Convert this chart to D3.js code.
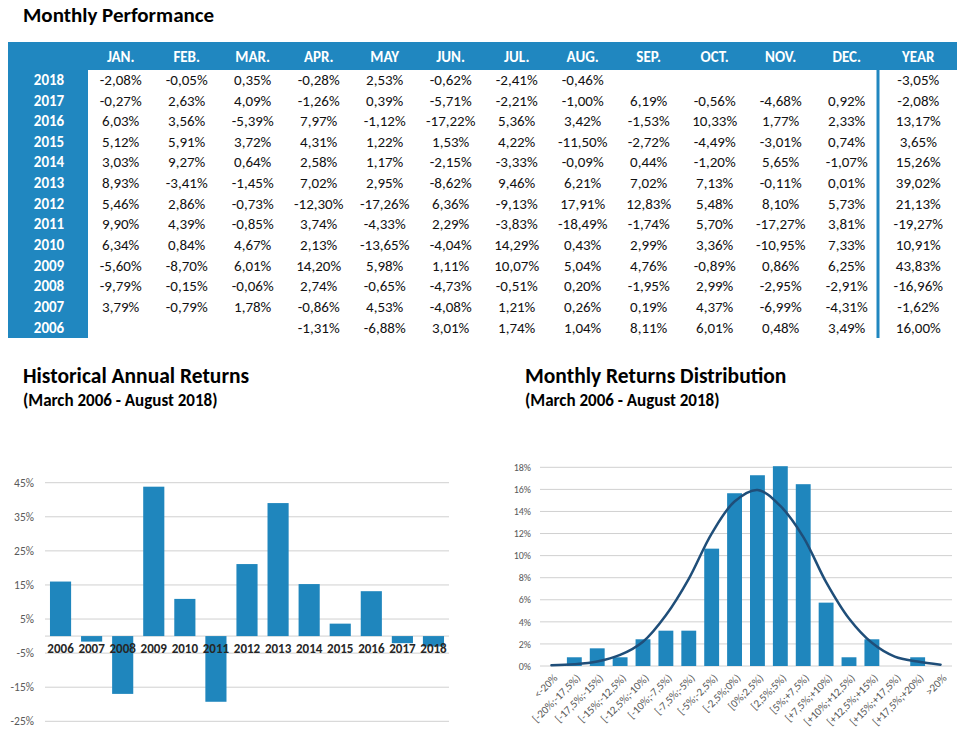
<!DOCTYPE html>
<html>
<head>
<meta charset="utf-8">
<script src="https://cdn.jsdelivr.net/npm/d3@7"></script>
<style>
  html, body { margin: 0; padding: 0; background: #fff; }
  svg { display: block; font-family: Carlito, Lato, "Open Sans", sans-serif; }
</style>
</head>
<body>
<svg id="chart" width="967" height="746"></svg>
<script>
// ---------- DATA ----------
const months = ["JAN.", "FEB.", "MAR.", "APR.", "MAY", "JUN.", "JUL.", "AUG.", "SEP.", "OCT.", "NOV.", "DEC."];
const years = ["2018", "2017", "2016", "2015", "2014", "2013", "2012", "2011", "2010", "2009", "2008", "2007", "2006"];
const monthlyReturns = [
  ["-2,08%", "-0,05%", "0,35%", "-0,28%", "2,53%", "-0,62%", "-2,41%", "-0,46%", "", "", "", ""],
  ["-0,27%", "2,63%", "4,09%", "-1,26%", "0,39%", "-5,71%", "-2,21%", "-1,00%", "6,19%", "-0,56%", "-4,68%", "0,92%"],
  ["6,03%", "3,56%", "-5,39%", "7,97%", "-1,12%", "-17,22%", "5,36%", "3,42%", "-1,53%", "10,33%", "1,77%", "2,33%"],
  ["5,12%", "5,91%", "3,72%", "4,31%", "1,22%", "1,53%", "4,22%", "-11,50%", "-2,72%", "-4,49%", "-3,01%", "0,74%"],
  ["3,03%", "9,27%", "0,64%", "2,58%", "1,17%", "-2,15%", "-3,33%", "-0,09%", "0,44%", "-1,20%", "5,65%", "-1,07%"],
  ["8,93%", "-3,41%", "-1,45%", "7,02%", "2,95%", "-8,62%", "9,46%", "6,21%", "7,02%", "7,13%", "-0,11%", "0,01%"],
  ["5,46%", "2,86%", "-0,73%", "-12,30%", "-17,26%", "6,36%", "-9,13%", "17,91%", "12,83%", "5,48%", "8,10%", "5,73%"],
  ["9,90%", "4,39%", "-0,85%", "3,74%", "-4,33%", "2,29%", "-3,83%", "-18,49%", "-1,74%", "5,70%", "-17,27%", "3,81%"],
  ["6,34%", "0,84%", "4,67%", "2,13%", "-13,65%", "-4,04%", "14,29%", "0,43%", "2,99%", "3,36%", "-10,95%", "7,33%"],
  ["-5,60%", "-8,70%", "6,01%", "14,20%", "5,98%", "1,11%", "10,07%", "5,04%", "4,76%", "-0,89%", "0,86%", "6,25%"],
  ["-9,79%", "-0,15%", "-0,06%", "2,74%", "-0,65%", "-4,73%", "-0,51%", "0,20%", "-1,95%", "2,99%", "-2,95%", "-2,91%"],
  ["3,79%", "-0,79%", "1,78%", "-0,86%", "4,53%", "-4,08%", "1,21%", "0,26%", "0,19%", "4,37%", "-6,99%", "-4,31%"],
  ["", "", "", "-1,31%", "-6,88%", "3,01%", "1,74%", "1,04%", "8,11%", "6,01%", "0,48%", "3,49%"]
];
const yearTotals = ["-3,05%", "-2,08%", "13,17%", "3,65%", "15,26%", "39,02%", "21,13%", "-19,27%", "10,91%", "43,83%", "-16,96%", "-1,62%", "16,00%"];

const annualYears = ["2006", "2007", "2008", "2009", "2010", "2011", "2012", "2013", "2014", "2015", "2016", "2017", "2018"];
const annualReturns = [16.00, -1.62, -16.96, 43.83, 10.91, -19.27, 21.13, 39.02, 15.26, 3.65, 13.17, -2.08, -3.05];
const annualTicks = [45, 35, 25, 15, 5, -5, -15, -25];

const distCategories = ["<-20%", "[-20%;-17,5%)", "[-17,5%;-15%)", "[-15%;-12,5%)", "[-12,5%;-10%)", "[-10%;-7,5%)",
  "[-7,5%;-5%)", "[-5%;-2,5%)", "[-2,5%;0%)", "[0%;2,5%)", "[2,5%;5%)", "[5%;+7,5%)", "[+7,5%;+10%)",
  "[+10%;+12,5%)", "[+12,5%;+15%)", "[+15%;+17,5%)", "[+17,5%;+20%)", ">20%"];
const distFrequency = [0, 0.79, 1.6, 0.79, 2.42, 3.2, 3.2, 10.63, 15.65, 17.28, 18.1, 16.47, 5.74, 0.79, 2.42, 0, 0.79, 0];
const distNormal = [0.06, 0.15, 0.4, 1.0, 2.2, 4.6, 7.9, 12.0, 14.9, 15.95, 14.5, 11.7, 7.6, 4.3, 2.1, 0.85, 0.4, 0.12];
const distTicks = [0, 2, 4, 6, 8, 10, 12, 14, 16, 18];

// ---------- STYLE ----------
const BLUE = "#2087c0";
const BAR = "#1f86bd";
const GRID = "#d0d0d0";
const LABEL = "#595959";
const FONT = "Carlito, Lato, sans-serif";

const svg = d3.select("#chart");

// ---------- TABLE ----------
svg.append("text").attr("x", 23).attr("y", 22).attr("font-size", 21).attr("font-weight", 700)
  .attr("fill", "#000").text("Monthly Performance");

const colX = d3.scalePoint().domain(months).range([120.7, 846.7]);
const yearColX = 918.3;
const rowY = d3.scalePoint().domain(years).range([79.7, 327.3]);

svg.append("rect").attr("x", 8).attr("y", 42).attr("width", 949).attr("height", 28).attr("fill", BLUE);
svg.append("rect").attr("x", 8).attr("y", 42).attr("width", 80).attr("height", 296).attr("fill", BLUE);
svg.append("rect").attr("x", 876.5).attr("y", 69).attr("width", 3).attr("height", 269).attr("fill", BLUE);

const headG = svg.append("g").attr("font-size", 15).attr("font-weight", 700).attr("fill", "#fff")
  .attr("text-anchor", "middle");
headG.selectAll("text.m").data(months).join("text").attr("class", "m")
  .attr("x", d => colX(d)).attr("y", 56.7).attr("dy", "0.35em").text(d => d);
headG.append("text").attr("x", yearColX).attr("y", 56.7).attr("dy", "0.35em").text("YEAR");
headG.selectAll("text.y").data(years).join("text").attr("class", "y")
  .attr("x", 49).attr("y", d => rowY(d)).attr("dy", "0.35em").text(d => d);

const bodyG = svg.append("g").attr("font-size", 15).attr("fill", "#111").attr("text-anchor", "middle");
years.forEach((yr, i) => {
  bodyG.selectAll(null).data(monthlyReturns[i]).join("text")
    .attr("x", (d, j) => colX(months[j])).attr("y", rowY(yr)).attr("dy", "0.35em").text(d => d);
  bodyG.append("text").attr("x", yearColX).attr("y", rowY(yr)).attr("dy", "0.35em").text(yearTotals[i]);
});

// ---------- CHART 1: annual returns ----------
svg.append("text").attr("x", 23).attr("y", 383).attr("font-size", 21.5).attr("font-weight", 700)
  .text("Historical Annual Returns");
svg.append("text").attr("x", 23).attr("y", 406).attr("font-size", 17).attr("font-weight", 700)
  .text("(March 2006 - August 2018)");

const x1 = d3.scaleBand().domain(annualYears).range([45, 449]).paddingInner(0.32).paddingOuter(0.16);
const y1 = d3.scaleLinear().domain([-25, 45]).range([721.3, 482.7]);

const g1 = svg.append("g");
g1.selectAll("line.grid").data(annualTicks).join("line").attr("class", "grid")
  .attr("x1", 45).attr("x2", 449).attr("y1", d => y1(d)).attr("y2", d => y1(d))
  .attr("stroke", GRID).attr("stroke-width", 1);
g1.append("line").attr("x1", 45).attr("x2", 449).attr("y1", y1(0)).attr("y2", y1(0))
  .attr("stroke", GRID).attr("stroke-width", 1);

const y1Axis = d3.axisLeft(y1).tickValues(annualTicks).tickSize(0).tickPadding(0).tickFormat(d => d + "%");
g1.append("g").attr("transform", "translate(34,0)").call(y1Axis)
  .call(g => g.select(".domain").remove())
  .call(g => g.selectAll("text").attr("font-size", 11.5).attr("fill", LABEL).attr("font-family", FONT));

g1.selectAll("rect.bar").data(annualReturns).join("rect").attr("class", "bar")
  .attr("x", (d, i) => x1(annualYears[i])).attr("width", x1.bandwidth())
  .attr("y", d => y1(Math.max(0, d))).attr("height", d => Math.abs(y1(d) - y1(0)))
  .attr("fill", BAR);

const x1Axis = d3.axisBottom(x1).tickSize(0).tickPadding(0);
g1.append("g").attr("transform", `translate(0,${y1(0) + 8})`).call(x1Axis)
  .call(g => g.select(".domain").remove())
  .call(g => g.selectAll("text").attr("font-size", 13).attr("font-weight", 700).attr("fill", "#262626")
    .attr("font-family", FONT));

// ---------- CHART 2: distribution ----------
svg.append("text").attr("x", 525).attr("y", 383).attr("font-size", 21.5).attr("font-weight", 700)
  .text("Monthly Returns Distribution");
svg.append("text").attr("x", 525).attr("y", 406).attr("font-size", 17).attr("font-weight", 700)
  .text("(March 2006 - August 2018)");

const x2 = d3.scaleBand().domain(distCategories).range([540, 952]).paddingInner(0.35).paddingOuter(0.175);
const y2 = d3.scaleLinear().domain([0, 18]).range([666, 467.3]);

const g2 = svg.append("g");
g2.selectAll("line.grid").data(distTicks).join("line").attr("class", "grid")
  .attr("x1", 540).attr("x2", 952).attr("y1", d => y2(d)).attr("y2", d => y2(d))
  .attr("stroke", GRID).attr("stroke-width", 1);

const y2Axis = d3.axisLeft(y2).tickValues(distTicks).tickSize(0).tickPadding(0).tickFormat(d => d + "%");
g2.append("g").attr("transform", "translate(531,0)").call(y2Axis)
  .call(g => g.select(".domain").remove())
  .call(g => g.selectAll("text").attr("font-size", 10).attr("fill", LABEL).attr("font-family", FONT));

g2.selectAll("rect.bar").data(distFrequency).join("rect").attr("class", "bar")
  .attr("x", (d, i) => x2(distCategories[i])).attr("width", x2.bandwidth())
  .attr("y", d => y2(d)).attr("height", d => y2(0) - y2(d))
  .attr("fill", BAR);

const line = d3.line()
  .x((d, i) => x2(distCategories[i]) + x2.bandwidth() / 2)
  .y(d => y2(d))
  .curve(d3.curveCatmullRom.alpha(0.5));
g2.append("path").datum(distNormal).attr("d", line).attr("fill", "none")
  .attr("stroke", "#1f4e79").attr("stroke-width", 2.5).attr("stroke-linecap", "round");

const x2Axis = d3.axisBottom(x2).tickSize(0).tickPadding(0);
g2.append("g").attr("transform", `translate(0,${y2(0)})`).call(x2Axis)
  .call(g => g.select(".domain").remove())
  .call(g => g.selectAll("text")
    .attr("font-size", 11).attr("fill", LABEL).attr("font-family", FONT)
    .attr("text-anchor", "end").attr("dy", "0.35em")
    .attr("transform", "translate(4,10) rotate(-45)")
    .attr("y", 0).attr("x", 0));
</script>
</body>
</html>
